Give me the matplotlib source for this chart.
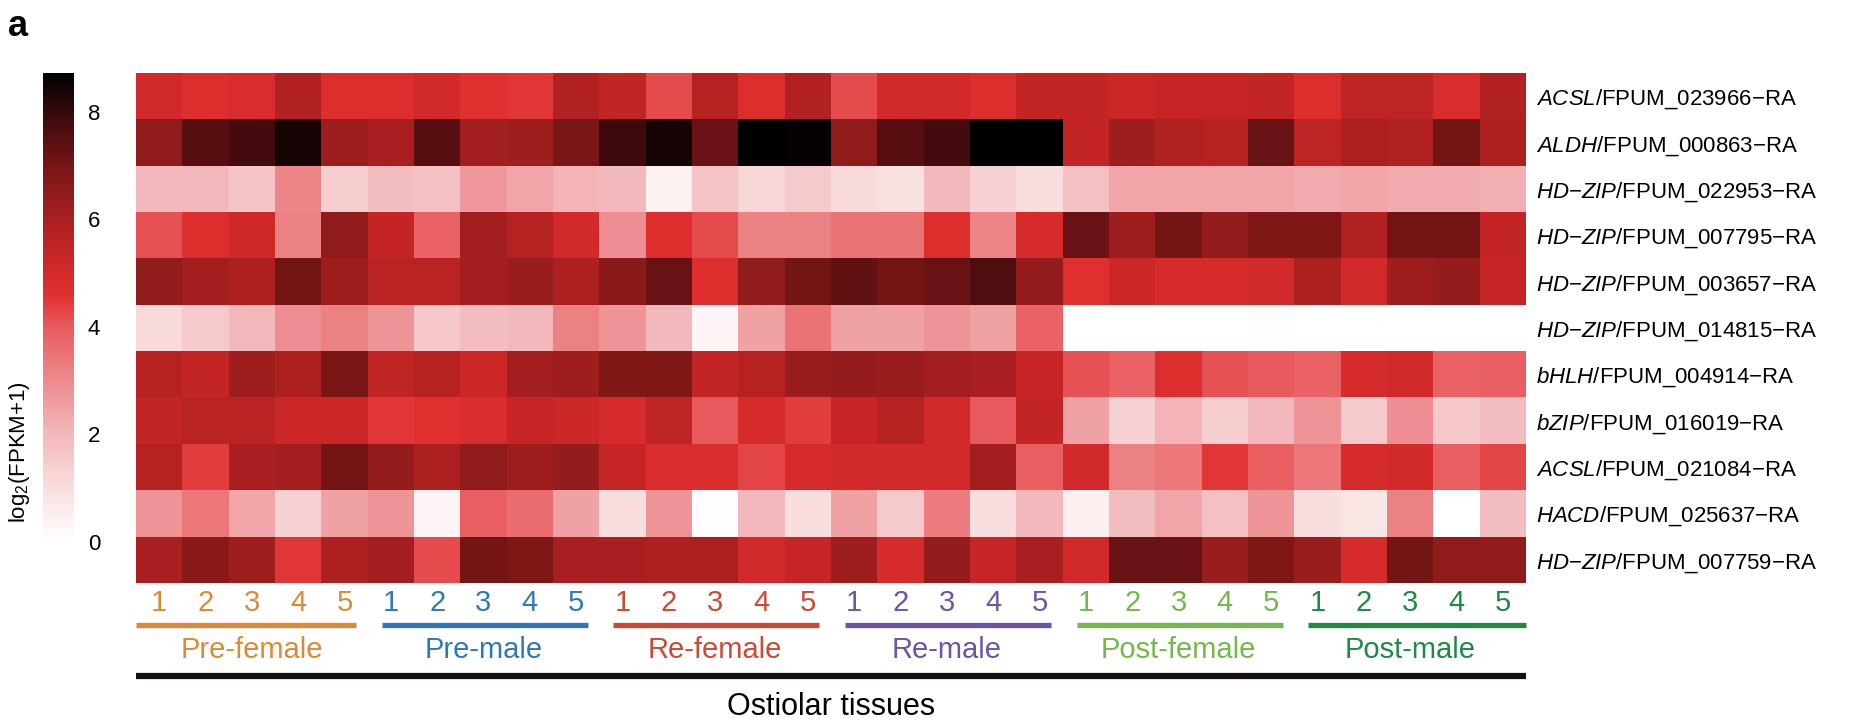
"""
Heatmap of log2(FPKM+1) for 11 genes across ostiolar tissue samples.
"""

import numpy as np
import matplotlib
matplotlib.use("Agg")
import matplotlib.pyplot as plt
from matplotlib.colors import LinearSegmentedColormap

plt.rcParams['font.family'] = ['Liberation Sans', 'DejaVu Sans']
plt.rcParams['mathtext.fontset'] = 'custom'
plt.rcParams['mathtext.rm'] = 'Liberation Sans'
plt.rcParams['mathtext.it'] = 'Liberation Sans:italic'

# Data
groups = ["Pre-female", "Pre-male", "Re-female", "Re-male", "Post-female", "Post-male"]
group_colors = ["#DC8A36", "#2F78B8", "#CC4A34", "#6A55A6", "#74B84C", "#1F8A45"]
replicates = ["1", "2", "3", "4", "5"]

families = ["ACSL", "ALDH", "HD-ZIP", "HD-ZIP", "HD-ZIP", "HD-ZIP",
            "bHLH", "bZIP", "ACSL", "HACD", "HD-ZIP"]
gene_ids = ["FPUM_023966-RA", "FPUM_000863-RA", "FPUM_022953-RA", "FPUM_007795-RA",
            "FPUM_003657-RA", "FPUM_014815-RA", "FPUM_004914-RA", "FPUM_016019-RA",
            "FPUM_021084-RA", "FPUM_025637-RA", "FPUM_007759-RA"]

acsl_023966 = [5.0, 4.7, 4.8, 5.8, 4.7, 4.7, 5.0, 4.6, 4.5, 5.8, 5.4, 4.2, 5.7, 4.7, 5.8,
               4.2, 5.0, 5.0, 4.7, 5.4, 5.4, 5.2, 5.3, 5.3, 5.4, 4.7, 5.5, 5.5, 4.8, 5.8]
aldh_000863 = [6.5, 7.5, 7.8, 8.4, 6.2, 6.0, 7.5, 6.1, 6.2, 6.9, 7.9, 8.4, 7.2, 8.7, 8.6,
               6.5, 7.5, 7.8, 8.7, 8.7, 5.4, 6.2, 5.8, 5.7, 7.2, 5.5, 5.9, 5.8, 7.0, 5.9]
hdzip_022953 = [2.0, 2.0, 1.7, 3.1, 1.4, 1.9, 1.8, 2.7, 2.4, 2.1, 2.0, 0.4, 1.7, 1.2, 1.5,
                1.1, 0.9, 2.0, 1.3, 1.0, 1.8, 2.4, 2.4, 2.4, 2.4, 2.3, 2.4, 2.3, 2.3, 2.2]
hdzip_007795 = [4.1, 4.7, 5.1, 3.2, 6.5, 5.4, 3.8, 6.1, 5.7, 5.0, 2.9, 4.7, 4.2, 3.2, 3.2,
                3.5, 3.5, 4.7, 3.1, 4.9, 7.2, 6.2, 7.0, 6.4, 6.8, 6.8, 5.8, 7.0, 7.0, 5.4]
hdzip_003657 = [6.5, 6.1, 5.9, 7.0, 6.2, 5.6, 5.6, 6.1, 6.3, 5.9, 6.6, 7.2, 4.7, 6.5, 7.0,
                7.3, 7.0, 7.2, 7.6, 6.4, 4.6, 5.2, 4.9, 4.9, 5.0, 5.9, 5.0, 6.2, 6.4, 5.3]
hdzip_014815 = [1.1, 1.5, 2.0, 2.9, 3.2, 2.8, 1.6, 1.9, 2.0, 3.2, 2.8, 2.0, 0.3, 2.5, 3.5,
                2.5, 2.5, 2.8, 2.5, 3.8, 0.0, 0.0, 0.0, 0.0, 0.05, 0.0, 0.0, 0.0, 0.0, 0.0]
bhlh_004914 = [5.7, 5.4, 6.2, 5.9, 6.9, 5.5, 5.7, 5.2, 6.1, 6.2, 6.8, 6.8, 5.4, 5.7, 6.3,
               6.4, 6.3, 6.1, 6.0, 5.3, 4.1, 3.8, 4.7, 4.1, 4.0, 3.8, 4.9, 5.0, 3.8, 3.9]
bzip_016019 = [5.4, 5.6, 5.6, 5.2, 5.2, 4.5, 4.6, 4.8, 5.3, 5.2, 4.9, 5.5, 4.0, 4.9, 4.4,
               5.3, 5.7, 5.0, 4.0, 5.4, 2.5, 1.3, 2.1, 1.4, 2.0, 2.8, 1.5, 2.9, 1.6, 1.9]
acsl_021084 = [5.7, 4.4, 6.0, 6.1, 7.0, 6.4, 5.9, 6.5, 6.2, 6.4, 5.3, 4.8, 4.8, 4.3, 4.9,
               5.0, 5.0, 5.0, 6.1, 3.9, 5.0, 3.2, 3.4, 4.5, 3.9, 3.4, 4.9, 5.0, 3.9, 4.3]
hacd_025637 = [2.8, 3.4, 2.4, 1.3, 2.5, 2.8, 0.3, 3.9, 3.6, 2.5, 1.0, 2.8, 0.1, 2.0, 1.0,
               2.5, 1.5, 3.3, 1.0, 2.0, 0.5, 1.9, 2.4, 1.8, 2.8, 1.0, 0.8, 3.2, 0.0, 1.9]
hdzip_007759 = [6.0, 6.6, 6.2, 4.5, 5.9, 6.1, 4.2, 7.0, 6.8, 6.0, 6.0, 5.9, 5.9, 5.0, 5.3,
                6.2, 4.9, 6.4, 5.3, 6.0, 5.0, 7.2, 7.2, 6.3, 6.8, 6.3, 4.9, 7.0, 6.5, 6.5]

values = np.array([acsl_023966, aldh_000863, hdzip_022953, hdzip_007795, hdzip_003657,
                   hdzip_014815, bhlh_004914, bzip_016019, acsl_021084, hacd_025637,
                   hdzip_007759])
vmax = 8.72

# White -> red -> black colour scale
cmap_nodes = [(0.0, "#FFFFFF"), (1.0, "#F9DEDF"), (2.0, "#F3B8BB"), (3.0, "#EE8A8E"),
              (4.0, "#E85A5C"), (4.6, "#E03030"), (5.3, "#C82626"), (6.0, "#AA2020"),
              (6.8, "#801818"), (7.6, "#520E10"), (8.72, "#000000")]
cmap = LinearSegmentedColormap.from_list(
    "whrdbk", [(v / vmax, c) for v, c in cmap_nodes])

W, H = 1865, 727
fig = plt.figure(figsize=(W / 100, H / 100), dpi=100)


def px_axes(x0, y0, x1, y1):
    return fig.add_axes([x0 / W, 1 - y1 / H, (x1 - x0) / W, (y1 - y0) / H])


ax = px_axes(136, 73, 1526, 583)
im = ax.imshow(values, cmap=cmap, vmin=0, vmax=vmax, aspect='auto',
               interpolation='nearest')
for s in ax.spines.values():
    s.set_visible(False)
ax.set_xticks([])
ax.yaxis.tick_right()
ax.set_yticks(range(len(gene_ids)))
ax.set_yticklabels([r"$\it{%s}$/%s" % (f.replace("-", "{-}"), g.replace("-", "\u2212"))
                    for f, g in zip(families, gene_ids)], fontsize=16)
ax.tick_params(axis='y', length=0, pad=7)

# Sample labels, group bars and group names under the heatmap
trans = ax.get_xaxis_transform()
n_rep = len(replicates)
for gi, (name, color) in enumerate(zip(groups, group_colors)):
    start = gi * n_rep
    for ri, rep in enumerate(replicates):
        ax.text(start + ri, -0.040, rep, transform=trans, ha='center', va='center',
                fontsize=21, color=color)
    x0 = start - 0.5 + (0.0 if gi == 0 else 0.3)
    x1 = start + n_rep - 0.5 - (0.0 if gi == len(groups) - 1 else 0.25)
    ax.plot([x0, x1], [-0.082, -0.082], transform=trans, color=color, lw=3.8,
            clip_on=False, solid_capstyle='butt')
    ax.text(start + (n_rep - 1) / 2, -0.131, name, transform=trans, ha='center',
            va='center', fontsize=21, color=color)

ax.plot([-0.5, len(groups) * n_rep - 0.5], [-0.182, -0.182], transform=trans,
        color='#151010', lw=4.5, clip_on=False, solid_capstyle='butt')
ax.text((len(groups) * n_rep - 1) / 2, -0.243, "Ostiolar tissues", transform=trans,
        ha='center', va='center', fontsize=22, color='black')

# Colour bar
cax = px_axes(43, 73, 74, 542)
cb = fig.colorbar(im, cax=cax, ticks=[0, 2, 4, 6, 8])
cb.outline.set_visible(False)
cax.tick_params(length=0, pad=10, labelsize=16)
fig.text(20 / W, 1 - 452 / H, r"log$_2$(FPKM+1)", rotation=90, ha='center',
         va='center', fontsize=16)

fig.text(8 / W, 1 - 26 / H, "a", fontsize=26, fontweight='bold', va='center')

fig.savefig("out.png", dpi=100)
